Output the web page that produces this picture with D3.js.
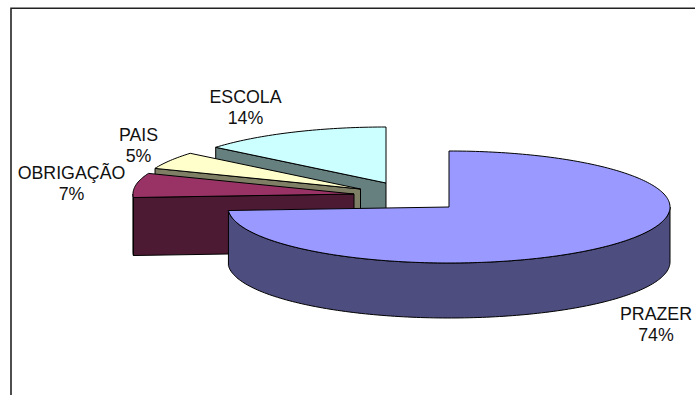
<!DOCTYPE html>
<html><head><meta charset="utf-8">
<script src="https://cdn.jsdelivr.net/npm/d3@7/dist/d3.min.js"></script>
<style>html,body{margin:0;padding:0;background:#fff}svg{display:block}text{font-family:"Liberation Sans",Arial,sans-serif}</style>
</head><body><svg id="c" width="695" height="395"></svg>
<script>
const categories = ["PRAZER","OBRIGAÇÃO","PAIS","ESCOLA"];
const percents = [74,7,5,14];
const topColors = ["#9999ff","#993366","#ffffcc","#ccffff"];
const wallColors = ["#4d4d80","#4d1a33","#7f7f66","#667f7f"];
const apexX = [449,354,360.5,386];
const apexY = [207,194,189,183];
const depths = [55,58,58,58];
const labelX = [656,71.5,138.5,245.5];
const labelY = [319.5,179,141,103];

const rx = 221, ry = 56, fs = 17.8, leading = 21;
const svg = d3.select("#c");
const pie = d3.pie().sort(null).value(d=>d)(percents);
const line = d3.line().x(d=>d[0]).y(d=>d[1]);
const pt = (i,a,dz=0)=>[apexX[i]+rx*Math.sin(a), apexY[i]-ry*Math.cos(a)+dz];
const arcPts = (i,a0,a1,dz=0)=>{const n=Math.max(2,Math.ceil((a1-a0)/0.02));
  return d3.range(n+1).map(k=>pt(i,a0+(a1-a0)*k/n,dz));};

// frame: the chart area runs off the right and bottom of the picture
svg.append("path").attr("d",line([[11,395],[11,8.25],[695,8.25]]))
  .attr("fill","none").attr("stroke","#222").attr("stroke-width",1.6);

const stroke = s=>s.attr("stroke","#000").attr("stroke-width",1).attr("stroke-linejoin","round");
[3,2,1,0].forEach(i=>{
  const {startAngle:a0,endAngle:a1} = pie[i];
  const c=[apexX[i],apexY[i]], depth=depths[i];
  const g=svg.append("g");
  // straight cut walls: only those facing the viewer
  [[a0,a0-Math.PI/2],[a1,a1+Math.PI/2]].forEach(([a,normal])=>{
    if(Math.cos(normal) > -1e-6) return;
    const p=pt(i,a);
    g.append("path").attr("d",line([c,p,[p[0],p[1]+depth],[c[0],c[1]+depth]])+"Z")
     .attr("fill",wallColors[i]).call(stroke);
  });
  // curved outer wall (front half only)
  const lo=Math.max(a0,Math.PI/2), hi=Math.min(a1,Math.PI*1.5);
  if(hi>lo){
    const top=arcPts(i,lo,hi), bot=arcPts(i,lo,hi,depth).reverse();
    g.append("path").attr("d",line(top.concat(bot))+"Z").attr("fill",wallColors[i]).call(stroke);
  }
  // top face
  g.append("path").attr("d",line([c].concat(arcPts(i,a0,a1)))+"Z").attr("fill",topColors[i]).call(stroke);
});

categories.forEach((t,i)=>{
  const tx=svg.append("text").attr("text-anchor","middle").attr("font-size",fs).attr("fill","#111");
  tx.append("tspan").attr("x",labelX[i]).attr("y",labelY[i]).text(t);
  tx.append("tspan").attr("x",labelX[i]).attr("y",labelY[i]+leading).text(percents[i]+"%");
});
</script></body></html>
